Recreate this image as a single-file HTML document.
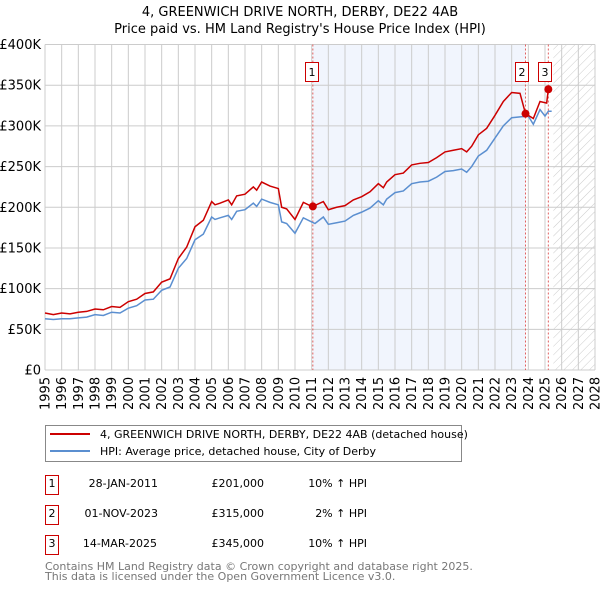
<!DOCTYPE html>
<html><head><meta charset="utf-8"><style>
body{margin:0;background:#fff;font-family:"DejaVu Sans","Liberation Sans",sans-serif;}
svg text{font-family:"DejaVu Sans","Liberation Sans",sans-serif;}
</style></head><body>
<svg id="c" width="600" height="590" xmlns="http://www.w3.org/2000/svg">
<defs><pattern id="hatch" width="6" height="6" patternUnits="userSpaceOnUse" patternTransform="rotate(45)"><line x1="0" y1="0" x2="0" y2="6" stroke="#ccc" stroke-width="1"/></pattern></defs>
<text x="300" y="16" text-anchor="middle" font-size="13">4, GREENWICH DRIVE NORTH, DERBY, DE22 4AB</text>
<text x="300" y="33" text-anchor="middle" font-size="13">Price paid vs. HM Land Registry's House Price Index (HPI)</text>
<g id="plot"></g>
<g>
<rect x="45.5" y="425.5" width="416" height="36" fill="#fff" stroke="#888"/>
<line x1="50" y1="434" x2="90" y2="434" stroke="#cc0000" stroke-width="2"/>
<text x="100" y="438" font-size="11">4, GREENWICH DRIVE NORTH, DERBY, DE22 4AB (detached house)</text>
<line x1="50" y1="451" x2="90" y2="451" stroke="#5b8fd0" stroke-width="2"/>
<text x="100" y="455" font-size="11">HPI: Average price, detached house, City of Derby</text>
</g>
<g font-size="11">
<rect x="45.5" y="475.5" width="13" height="19" fill="#fff" stroke="#cc0000"/><text x="52" y="487" text-anchor="middle">1</text>
<text x="158" y="487" text-anchor="end">28-JAN-2011</text><text x="264" y="487" text-anchor="end">£201,000</text><text x="367" y="487" text-anchor="end">10% ↑ HPI</text>
<rect x="45.5" y="505.5" width="13" height="19" fill="#fff" stroke="#cc0000"/><text x="52" y="517" text-anchor="middle">2</text>
<text x="158" y="517" text-anchor="end">01-NOV-2023</text><text x="264" y="517" text-anchor="end">£315,000</text><text x="367" y="517" text-anchor="end">2% ↑ HPI</text>
<rect x="45.5" y="535.5" width="13" height="19" fill="#fff" stroke="#cc0000"/><text x="52" y="547" text-anchor="middle">3</text>
<text x="157" y="547" text-anchor="end">14-MAR-2025</text><text x="264" y="547" text-anchor="end">£345,000</text><text x="367" y="547" text-anchor="end">10% ↑ HPI</text>
</g>
<text x="45" y="570" font-size="11" fill="#777">Contains HM Land Registry data © Crown copyright and database right 2025.</text>
<text x="45" y="580" font-size="11" fill="#777">This data is licensed under the Open Government Licence v3.0.</text>
</svg>
<script>
const yTicks=[0,50,100,150,200,250,300,350,400];
const yTickLabels=["£0","£50K","£100K","£150K","£200K","£250K","£300K","£350K","£400K"];
const xYears=[1995,1996,1997,1998,1999,2000,2001,2002,2003,2004,2005,2006,2007,2008,2009,2010,2011,2012,2013,2014,2015,2016,2017,2018,2019,2020,2021,2022,2023,2024,2025,2026,2027,2028];
const hpiT=[1995,1995.5,1996,1996.5,1997,1997.5,1998,1998.5,1999,1999.5,2000,2000.5,2001,2001.5,2002,2002.5,2003,2003.5,2004,2004.5,2005,2005.2,2005.5,2006,2006.2,2006.5,2007,2007.5,2007.7,2008,2008.5,2009,2009.2,2009.5,2010,2010.5,2011,2011.2,2011.7,2012,2012.5,2013,2013.5,2014,2014.5,2015,2015.3,2015.5,2016,2016.5,2017,2017.5,2018,2018.5,2019,2019.5,2020,2020.3,2020.6,2021,2021.5,2022,2022.5,2023,2023.5,2024,2024.3,2024.7,2025,2025.2,2025.4];
const hpiV=[63,62,63,63,64,65,68,67,71,70,76,79,86,87,98,102,125,137,160,167,188,185,187,190,185,195,197,205,201,210,206,203,182,180,168,187,182,180,188,179,181,183,190,194,199,208,203,210,218,220,229,231,232,237,244,245,247,243,250,263,270,285,300,310,311,312,302,320,312,318,318];
const saleT=[1995,1995.5,1996,1996.5,1997,1997.5,1998,1998.5,1999,1999.5,2000,2000.5,2001,2001.5,2002,2002.5,2003,2003.5,2004,2004.5,2005,2005.2,2005.5,2006,2006.2,2006.5,2007,2007.5,2007.7,2008,2008.5,2009,2009.2,2009.5,2010,2010.5,2011,2011.07,2011.7,2012,2012.5,2013,2013.5,2014,2014.5,2015,2015.3,2015.5,2016,2016.5,2017,2017.5,2018,2018.5,2019,2019.5,2020,2020.3,2020.6,2021,2021.5,2022,2022.5,2023,2023.5,2023.83,2024.3,2024.7,2025.1,2025.2];
const saleV=[70,68,70,69,71,72,75,74,78,77,84,87,94,96,108,112,137,151,176,184,207,203,205,209,203,214,216,225,221,231,226,223,200,198,185,206,201,201,207,197,200,202,209,213,219,229,224,231,240,242,252,254,255,261,268,270,272,268,275,289,297,313,330,341,340,315,309,330,328,345];
const saleDatesT=[2011.07,2023.83,2025.2];
const saleDatesV=[201,315,345];
const saleLabels=["1","2","3"];
const NS="http://www.w3.org/2000/svg";
const X0=45,X1=595,Y0=370,Y1=44.5;
function xs(t){return X0+(t-1995)/(2028-1995)*(X1-X0);}
function ys(v){return Y0-v/400*(Y0-Y1);}
const g=document.getElementById('plot');
function mk(tag,at){const e=document.createElementNS(NS,tag);for(const k in at)e.setAttribute(k,at[k]);g.appendChild(e);return e;}
let r=mk('rect',{x:xs(saleDatesT[0]),y:Y1,width:xs(saleDatesT[1])-xs(saleDatesT[0]),height:Y0-Y1,fill:'#eef3fc',opacity:0.8});


r=mk('rect',{x:xs(2025.5),y:Y1,width:X1-xs(2025.5),height:Y0-Y1,fill:'url(#hatch)'});


xYears.forEach(y=>{const l=mk('line',{x1:xs(y),x2:xs(y),y1:Y1,y2:Y0,stroke:'#ccc'});


const t=mk('text',{x:0,y:0,'font-size':13,transform:`translate(${xs(y)+4.5},410) rotate(-90)`});t.textContent=y;

});
yTicks.forEach((v,i)=>{const l=mk('line',{x1:X0,x2:X1,y1:ys(v),y2:ys(v),stroke:'#ccc'});


const t=mk('text',{x:41,y:ys(v)+4.5,'font-size':13,'text-anchor':'end'});t.textContent=yTickLabels[i];

});
saleDatesT.forEach(t=>{const l=mk('line',{x1:xs(t),x2:xs(t),y1:Y1,y2:Y0,stroke:'#e06060','stroke-dasharray':'2,2'});

});
let p=mk('polyline',{points:hpiT.map((t,i)=>xs(t)+','+ys(hpiV[i])).join(' '),fill:'none',stroke:'#5b8fd0','stroke-width':1.5});


p=mk('polyline',{points:saleT.map((t,i)=>xs(t)+','+ys(saleV[i])).join(' '),fill:'none',stroke:'#cc0000','stroke-width':1.5});


const boxOff=[8,10,10];
saleDatesT.forEach((t,i)=>{const c=mk('circle',{cx:xs(t),cy:ys(saleDatesV[i]),r:4,fill:'#cc0000'});


const bx=Math.round(xs(t)-boxOff[i]);
const b=mk('rect',{x:bx+0.5,y:62.5,width:13,height:19,fill:'#fff',stroke:'#cc0000'});


const tx=mk('text',{x:bx+7,y:76,'font-size':11,'text-anchor':'middle'});tx.textContent=saleLabels[i];

});
</script>
</body></html>
